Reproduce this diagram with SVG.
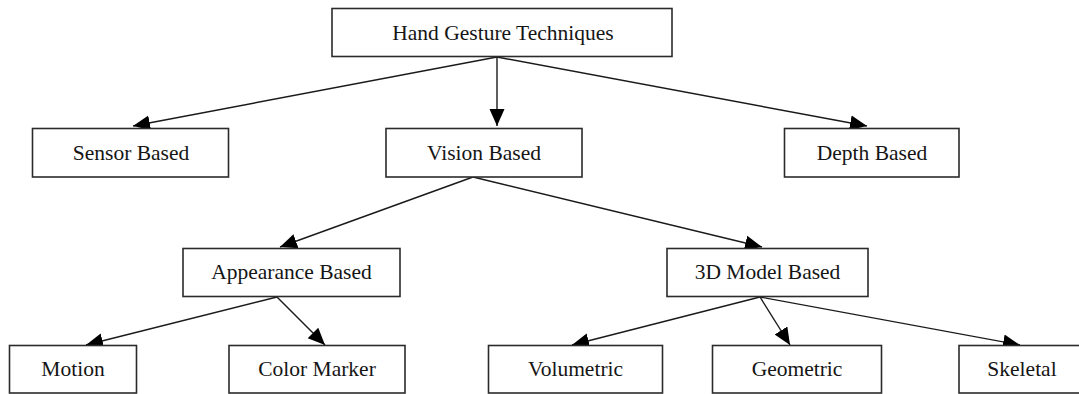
<svg xmlns="http://www.w3.org/2000/svg" width="1079" height="394" viewBox="0 0 1079 394">
  <style>
    .box { fill: #ffffff; stroke: #2b2b2b; stroke-width: 1.6; }
    .label { font-family: "Liberation Serif", "Times New Roman", serif; font-size: 21.5px; fill: #151515; text-anchor: middle; }
    .edge { fill: none; stroke: #1a1a1a; stroke-width: 1.4; marker-end: url(#arrow); }
  </style>
  <defs>
    <marker id="arrow" markerUnits="userSpaceOnUse" markerWidth="18" markerHeight="18" viewBox="0 0 18 18" refX="17" refY="9" orient="auto">
      <path d="M0,1.5 L17,9 L0,16.5 Z" fill="#000000"/>
    </marker>
  </defs>
  <rect width="1079" height="394" fill="#ffffff"/>

  <!-- connectors -->
  <g id="connectors">
    <line class="edge" x1="497" y1="57" x2="133" y2="126"/>
    <line class="edge" x1="497" y1="57" x2="497" y2="126"/>
    <line class="edge" x1="497" y1="57" x2="867" y2="126"/>
    <line class="edge" x1="473" y1="177" x2="280" y2="247"/>
    <line class="edge" x1="473" y1="177" x2="762" y2="247"/>
    <line class="edge" x1="277" y1="297" x2="86" y2="345"/>
    <line class="edge" x1="277" y1="297" x2="325" y2="345"/>
    <line class="edge" x1="760" y1="297" x2="572" y2="345"/>
    <line class="edge" x1="760" y1="297" x2="790" y2="345"/>
    <line class="edge" x1="760" y1="297" x2="1020" y2="345"/>
  </g>

  <!-- nodes -->
  <g id="hand-gesture-techniques">
    <rect class="box" x="332" y="8.5" width="340" height="48"/>
    <text class="label" x="503" y="39.5">Hand Gesture Techniques</text>
  </g>
  <g id="sensor-based">
    <rect class="box" x="32.5" y="128.5" width="196" height="48.5"/>
    <text class="label" x="131" y="159.5">Sensor Based</text>
  </g>
  <g id="vision-based">
    <rect class="box" x="386" y="128.5" width="196" height="48.5"/>
    <text class="label" x="484" y="159.5">Vision Based</text>
  </g>
  <g id="depth-based">
    <rect class="box" x="784.5" y="128.5" width="174.5" height="48.5"/>
    <text class="label" x="872" y="159.5">Depth Based</text>
  </g>
  <g id="appearance-based">
    <rect class="box" x="183" y="248.5" width="217" height="48"/>
    <text class="label" x="291.5" y="279">Appearance Based</text>
  </g>
  <g id="model-3d-based">
    <rect class="box" x="667" y="248.5" width="201" height="48"/>
    <text class="label" x="767.5" y="279">3D Model Based</text>
  </g>
  <g id="motion">
    <rect class="box" x="9.5" y="345.5" width="127" height="47.5"/>
    <text class="label" x="73" y="376">Motion</text>
  </g>
  <g id="color-marker">
    <rect class="box" x="229" y="345.5" width="176" height="47.5"/>
    <text class="label" x="317" y="376">Color Marker</text>
  </g>
  <g id="volumetric">
    <rect class="box" x="488.5" y="345.5" width="174" height="47.5"/>
    <text class="label" x="575.5" y="376">Volumetric</text>
  </g>
  <g id="geometric">
    <rect class="box" x="712.5" y="345.5" width="169" height="47.5"/>
    <text class="label" x="797" y="376">Geometric</text>
  </g>
  <g id="skeletal">
    <rect class="box" x="959" y="345.5" width="130" height="47.5"/>
    <text class="label" x="1022" y="376">Skeletal</text>
  </g>
</svg>
